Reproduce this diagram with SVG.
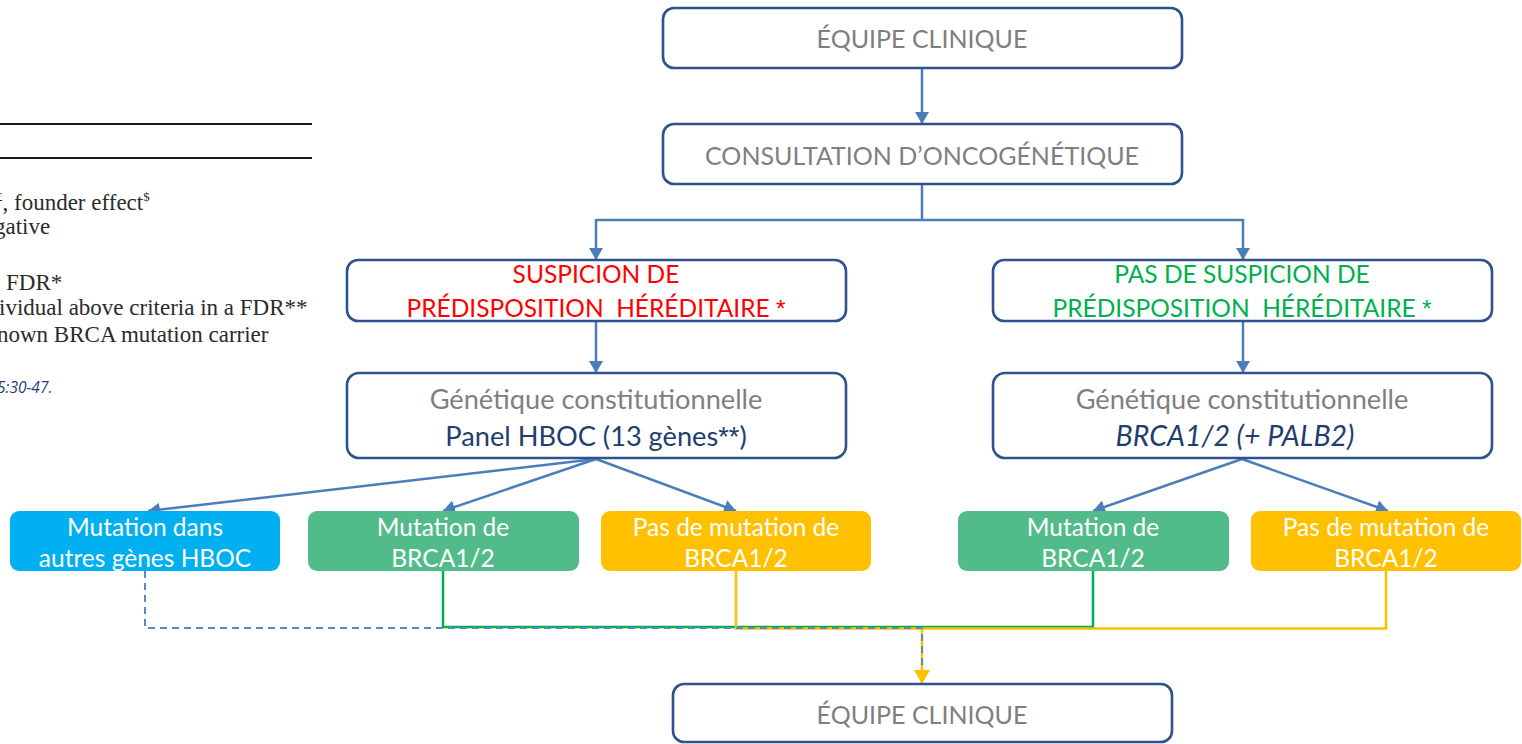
<svg xmlns="http://www.w3.org/2000/svg" width="1522" height="744" viewBox="0 0 1522 744">
  <defs>
    <marker id="arrow-blue" viewBox="0 0 12 14" markerWidth="12" markerHeight="14" refX="12" refY="7" orient="auto" markerUnits="userSpaceOnUse">
      <path d="M0,0 L12,7 L0,14 Z" fill="#4a7ebb"/>
    </marker>
    <marker id="arrow-yellow" viewBox="0 0 14 16" markerWidth="14" markerHeight="16" refX="14" refY="8" orient="auto" markerUnits="userSpaceOnUse">
      <path d="M0,0 L14,8 L0,16 Z" fill="#ffc000"/>
    </marker>
    <style>
      .box { fill: #ffffff; stroke: #2f528f; stroke-width: 2.6; }
      .lbl { font-family: Lato, "Liberation Sans", sans-serif; font-size: 25px; text-anchor: middle; }
      .caps { font-size: 24.5px; }
      .low { font-size: 27.2px; }
      .ital { font-size: 28.5px; font-style: italic; }
      .small { font-size: 24.5px; }
      .star { font-family: "Liberation Sans", sans-serif; }
      .grey { fill: #7f7f7f; }
      .navy { fill: #1f3e70; }
      .red { fill: #ff0000; }
      .green { fill: #00b050; }
      .white { fill: #ffffff; }
      .tag { stroke: none; }
      .conn { fill: none; stroke: #4a7ebb; stroke-width: 2.5; }
      .ref { font-family: "Liberation Serif", serif; font-size: 23px; fill: #2b2b2b; }
    </style>
  </defs>

  <!-- clipped table excerpt on the left -->
  <g id="table-excerpt">
    <line x1="0" y1="124" x2="312" y2="124" stroke="#1a1a1a" stroke-width="2"/>
    <line x1="0" y1="158" x2="312" y2="158" stroke="#1a1a1a" stroke-width="2"/>
    <text class="ref" x="-4" y="210"><tspan font-size="13" dy="-9">£</tspan><tspan dy="9">, founder effect</tspan><tspan font-size="13" dy="-9">$</tspan></text>
    <text class="ref" x="-6" y="234">gative</text>
    <text class="ref" x="6" y="290">FDR*</text>
    <text class="ref" x="-1" y="315">ividual above criteria in a FDR**</text>
    <text class="ref" x="-3" y="342">nown BRCA mutation carrier</text>
    <text x="-3" y="393" font-family="'Open Sans', 'Liberation Sans', sans-serif" font-size="15.5" font-style="italic" fill="#1f3d7a">5:30-47.</text>
  </g>

  <!-- connectors -->
  <g id="connectors">
    <line class="conn" x1="922" y1="68" x2="922" y2="124" marker-end="url(#arrow-blue)"/>
    <polyline class="conn" points="922,184 922,220"/>
    <polyline class="conn" points="596,220 1243,220"/>
    <line class="conn" x1="596" y1="219" x2="596" y2="260" marker-end="url(#arrow-blue)"/>
    <line class="conn" x1="1243" y1="219" x2="1243" y2="260" marker-end="url(#arrow-blue)"/>
    <line class="conn" x1="596" y1="321" x2="596" y2="373" marker-end="url(#arrow-blue)"/>
    <line class="conn" x1="1243" y1="321" x2="1243" y2="373" marker-end="url(#arrow-blue)"/>
    <line class="conn" x1="596" y1="459" x2="148" y2="511" marker-end="url(#arrow-blue)"/>
    <line class="conn" x1="596" y1="459" x2="443" y2="511" marker-end="url(#arrow-blue)"/>
    <line class="conn" x1="596" y1="459" x2="736" y2="511" marker-end="url(#arrow-blue)"/>
    <line class="conn" x1="1242" y1="459" x2="1093" y2="511" marker-end="url(#arrow-blue)"/>
    <line class="conn" x1="1242" y1="459" x2="1388" y2="511" marker-end="url(#arrow-blue)"/>
    <!-- BRCA1/2 mutation carriers -->
    <polyline points="443,571 443,627 1093,627 1093,571" fill="none" stroke="#00b050" stroke-width="2.5"/>
    <!-- no BRCA1/2 mutation -->
    <polyline points="736,571 736,628.5 1386,628.5 1386,571" fill="none" stroke="#ffc000" stroke-width="2.5"/>
    <line x1="922" y1="628" x2="922" y2="684" stroke="#ffc000" stroke-width="2.5" marker-end="url(#arrow-yellow)"/>
    <!-- other HBOC genes -->
    <polyline points="145,571 145,628 922,628 922,668" fill="none" stroke="#5b87c5" stroke-width="2" stroke-dasharray="7 5"/>
  </g>

  <g id="equipe-clinique-top">
    <rect class="box" x="663" y="8" width="519" height="60" rx="11"/>
    <text class="lbl grey" x="922" y="48">ÉQUIPE CLINIQUE</text>
  </g>

  <g id="consultation">
    <rect class="box" x="663" y="124" width="519" height="60" rx="11"/>
    <text class="lbl grey" x="922" y="165">CONSULTATION D’ONCOGÉNÉTIQUE</text>
  </g>

  <g id="suspicion">
    <rect class="box" x="347" y="260" width="499" height="61" rx="11"/>
    <text class="lbl caps red" x="596" y="283">SUSPICION DE</text>
    <text class="lbl caps red" x="596" y="317" xml:space="preserve">PRÉDISPOSITION  HÉRÉDITAIRE <tspan class="star">*</tspan></text>
  </g>

  <g id="pas-de-suspicion">
    <rect class="box" x="993" y="260" width="499" height="61" rx="11"/>
    <text class="lbl caps green" x="1242" y="283">PAS DE SUSPICION DE</text>
    <text class="lbl caps green" x="1242" y="317" xml:space="preserve">PRÉDISPOSITION  HÉRÉDITAIRE <tspan class="star">*</tspan></text>
  </g>

  <g id="genetique-panel">
    <rect class="box" x="347" y="373" width="499" height="85" rx="12"/>
    <text class="lbl low grey" x="596" y="409">Génétique constitutionnelle</text>
    <text class="lbl low navy" x="596" y="446">Panel HBOC (13 gènes<tspan class="star">**</tspan>)</text>
  </g>

  <g id="genetique-brca">
    <rect class="box" x="993" y="373" width="499" height="85" rx="12"/>
    <text class="lbl low grey" x="1242" y="409">Génétique constitutionnelle</text>
    <text class="lbl ital navy" x="1235" y="446">BRCA1/2 (+ PALB2)</text>
  </g>

  <g id="mutation-autres-genes">
    <rect class="tag" x="10" y="511" width="270" height="60" rx="9" fill="#00b0f0"/>
    <text class="lbl small white" x="145" y="536">Mutation dans</text>
    <text class="lbl small white" x="145" y="567">autres gènes HBOC</text>
  </g>

  <g id="mutation-brca-panel">
    <rect class="tag" x="308" y="511" width="271" height="60" rx="9" fill="#52bb8a"/>
    <text class="lbl small white" x="443" y="536">Mutation de</text>
    <text class="lbl small white" x="443" y="567">BRCA1/2</text>
  </g>

  <g id="pas-mutation-panel">
    <rect class="tag" x="601" y="511" width="270" height="60" rx="9" fill="#ffc000"/>
    <text class="lbl small white" x="736" y="536">Pas de mutation de</text>
    <text class="lbl small white" x="736" y="567">BRCA1/2</text>
  </g>

  <g id="mutation-brca-cible">
    <rect class="tag" x="958" y="511" width="271" height="60" rx="9" fill="#52bb8a"/>
    <text class="lbl small white" x="1093" y="536">Mutation de</text>
    <text class="lbl small white" x="1093" y="567">BRCA1/2</text>
  </g>

  <g id="pas-mutation-cible">
    <rect class="tag" x="1251" y="511" width="270" height="60" rx="9" fill="#ffc000"/>
    <text class="lbl small white" x="1386" y="536">Pas de mutation de</text>
    <text class="lbl small white" x="1386" y="567">BRCA1/2</text>
  </g>

  <g id="equipe-clinique-bottom">
    <rect class="box" x="673" y="684" width="499" height="58" rx="11"/>
    <text class="lbl grey" x="922" y="724">ÉQUIPE CLINIQUE</text>
  </g>
</svg>
